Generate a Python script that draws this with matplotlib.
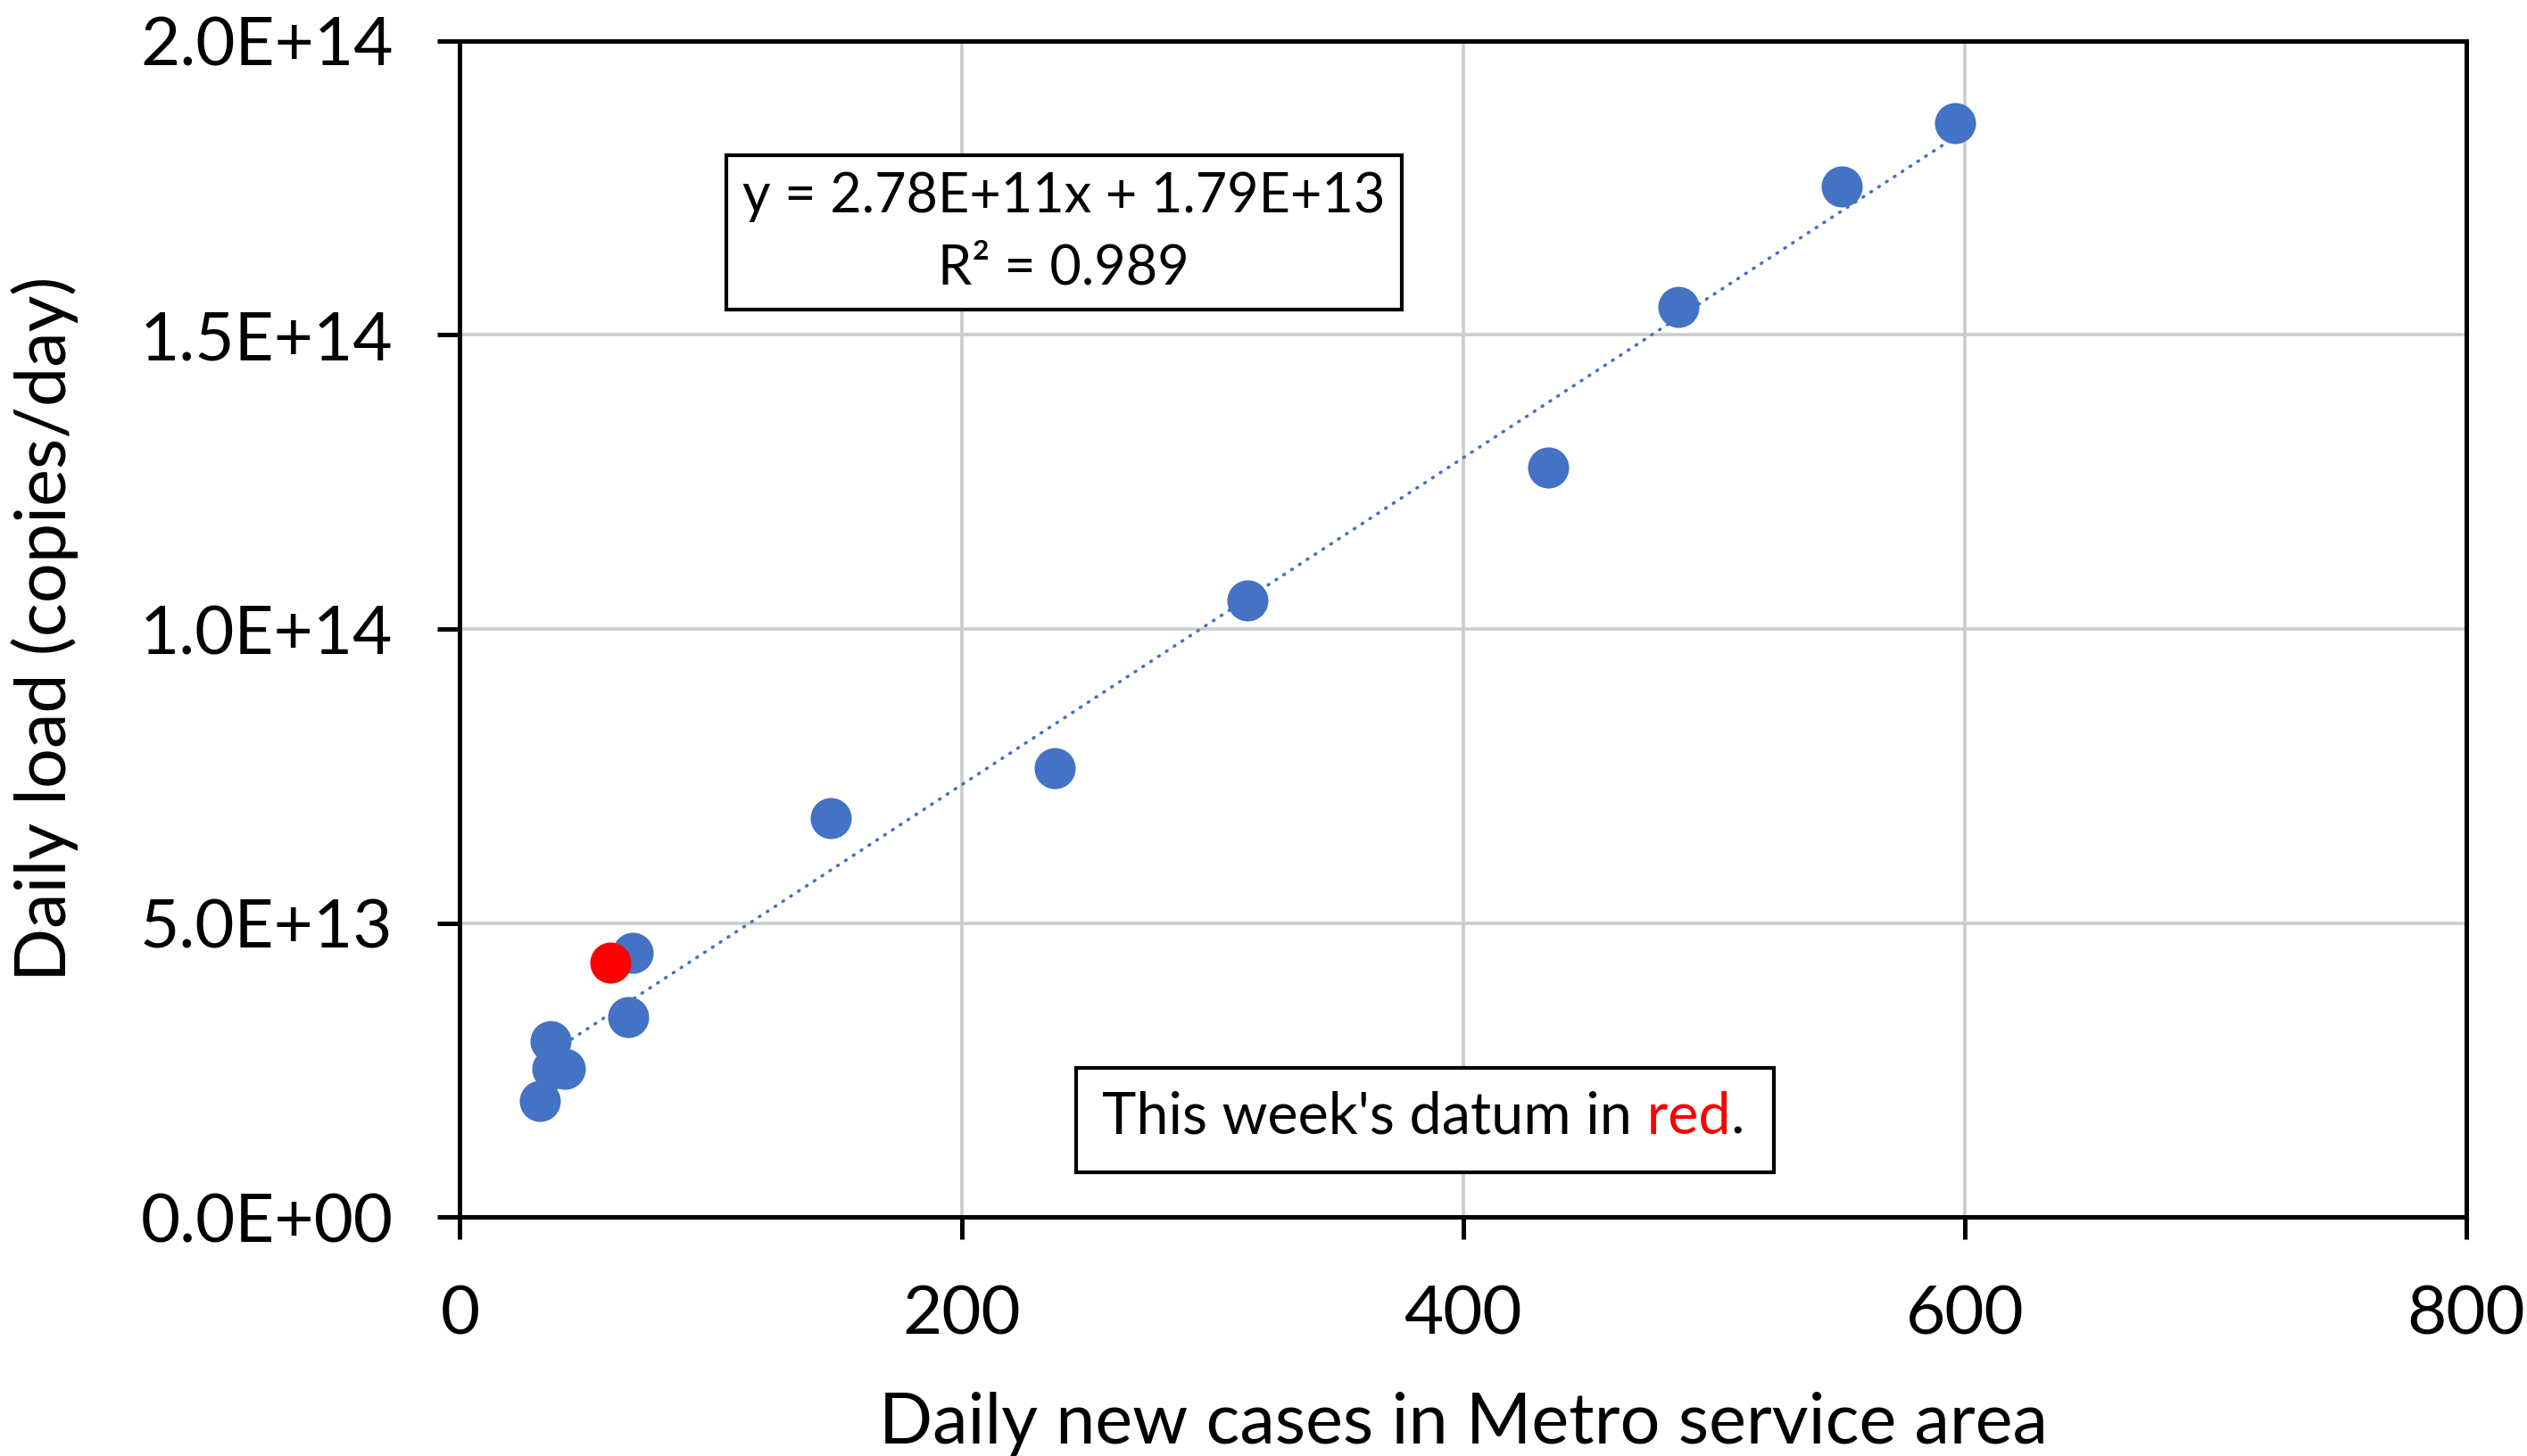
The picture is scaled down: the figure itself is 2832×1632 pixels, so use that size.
import matplotlib.pyplot as plt
import numpy as np
from matplotlib.ticker import FuncFormatter
from matplotlib.patches import Rectangle

plt.rcParams['font.family'] = ['Lato', 'DejaVu Sans']

# previous weeks (blue)
cases = [596, 551, 486, 434, 314, 237, 148, 69, 67, 36, 42, 37, 32]
load = [1.86e14, 1.753e14, 1.548e14, 1.274e14, 1.049e14, 7.64e13, 6.79e13,
        4.49e13, 3.40e13, 2.99e13, 2.52e13, 2.52e13, 1.97e13]

# this week (red)
cases_now = [60]
load_now = [4.33e13]

# trend line from the chart
slope = 2.78e11
intercept = 1.79e13
eq_text = "y = 2.78E+11x + 1.79E+13\nR\u00b2 = 0.989"

blue = '#4472C4'

fig = plt.figure(figsize=(14.16, 8.16), dpi=200)
ax = fig.add_axes([0.182, 0.164, 0.794, 0.808])

ax.scatter(cases, load, s=275, color=blue, zorder=3, linewidths=0)
ax.scatter(cases_now, load_now, s=275, color='#FF0000', zorder=4, linewidths=0)

xs = np.array([min(cases + cases_now), max(cases + cases_now)])
ax.plot(xs, slope * xs + intercept, color=blue, lw=1.3,
        linestyle=(0, (0.3, 2.6)), dash_capstyle='round', zorder=5)

ax.set_xlim(0, 800)
ax.set_ylim(0, 2.0e14)
ax.set_xticks([0, 200, 400, 600, 800])
ax.set_yticks([0, 0.5e14, 1.0e14, 1.5e14, 2.0e14])
ax.yaxis.set_major_formatter(FuncFormatter(lambda v, p: f"{v:.1E}"))

ax.grid(True, color='#cccccc', lw=1.3)
ax.set_axisbelow(True)
for s in ax.spines.values():
    s.set_linewidth(1.8)
    s.set_color('black')
ax.tick_params(axis='both', length=9, width=1.8, labelsize=27.5, pad=18,
               direction='out')

ax.set_xlabel("Daily new cases in Metro service area", fontsize=28.5)
ax.set_ylabel("Daily load (copies/day)", fontsize=28.5)
ax.xaxis.set_label_coords(0.5, -0.148)
ax.yaxis.set_label_coords(-0.19, 0.5)

ax.text(0.301, 0.837, eq_text, transform=ax.transAxes, ha='center', va='center',
        fontsize=22, linespacing=1.5, zorder=6,
        bbox=dict(boxstyle='square,pad=0.3', fc='white', ec='black', lw=1.5))

ax.add_patch(Rectangle((0.307, 0.038), 0.348, 0.089, transform=ax.transAxes,
                       fc='white', ec='black', lw=1.5, zorder=6))
t1 = ax.text(0.320, 0.085, "This week's datum in", transform=ax.transAxes,
             ha='left', va='center', fontsize=23.3, zorder=7)
t2 = ax.annotate(" red", xy=(1, 0), xycoords=t1, va='bottom', ha='left',
                 fontsize=23.3, color='#FF0000', zorder=7)
t3 = ax.annotate(".", xy=(1, 0), xycoords=t2, va='bottom', ha='left',
                 fontsize=23.3, zorder=7)

fig.savefig("out.png", dpi=200)
